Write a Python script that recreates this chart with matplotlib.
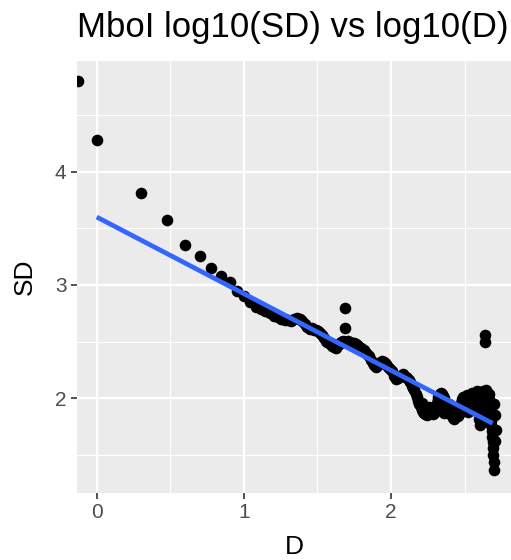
import numpy as np
import matplotlib.pyplot as plt
from matplotlib.ticker import MultipleLocator

plt.rcParams['font.family'] = ['Liberation Sans', 'DejaVu Sans']

# log10(D), log10(SD)
log_d = [-0.125, 0.0, 0.301, 0.477, 0.602, 0.699, 0.778, 0.845, 0.903, 0.954,
         1.0, 1.041, 1.079, 1.114, 1.146, 1.176, 1.204, 1.23, 1.255, 1.279,
         1.301, 1.322, 1.342, 1.362, 1.38, 1.398, 1.415, 1.431, 1.447, 1.462,
         1.477, 1.491, 1.505, 1.519, 1.531, 1.544, 1.556, 1.568, 1.58, 1.591,
         1.602, 1.613, 1.623, 1.633, 1.643, 1.653, 1.663, 1.672, 1.681, 1.699,
         1.708, 1.716, 1.724, 1.732, 1.74, 1.748, 1.756, 1.763, 1.771, 1.778,
         1.785, 1.799, 1.813, 1.826, 1.839, 1.851, 1.863, 1.875, 1.886, 1.898,
         1.908, 1.919, 1.929, 1.94, 1.954, 1.968, 1.982, 1.996, 2.009, 2.021,
         2.033, 2.045, 2.057, 2.068, 2.079, 2.09, 2.1, 2.111, 2.121, 2.13,
         2.14, 2.149, 2.158, 2.167, 2.176, 2.185, 2.193, 2.201, 2.21, 2.218,
         2.225, 2.233, 2.241, 2.248, 2.255, 2.262, 2.27, 2.276, 2.283, 2.29,
         2.297, 2.303, 2.31, 2.316, 2.322, 2.328, 2.334, 2.34, 2.346, 2.352,
         2.358, 2.364, 2.37, 2.375, 2.38, 2.386, 2.391, 2.396, 2.401, 2.407,
         2.412, 2.417, 2.422, 2.427, 2.431, 2.436, 2.441, 2.446, 2.45, 2.455,
         2.46, 2.464, 2.468, 2.473, 2.477, 2.481, 2.486, 2.49, 2.494, 2.498,
         2.502, 2.507, 2.511, 2.515, 2.519, 2.522, 2.526, 2.53, 2.534, 2.538,
         2.542, 2.545, 2.549, 2.553, 2.556, 2.56, 2.563, 2.567, 2.57, 2.574,
         2.577, 2.58, 2.584, 2.587, 2.591, 2.594, 2.597, 2.6, 2.603, 2.606,
         2.61, 2.613, 2.616, 2.619, 2.622, 2.625, 2.628, 2.631, 2.634, 2.637,
         2.64, 2.643, 2.646, 2.649, 2.652, 2.655, 2.658, 2.661, 2.664, 2.667,
         2.67, 2.673, 2.676, 2.679, 2.682, 2.684, 2.687, 2.69, 2.692, 2.695,
         2.698, 2.7, 2.705, 2.71, 2.705, 2.7,
         2.33, 2.36, 2.40, 2.48, 2.52, 2.56, 2.345, 2.21, 2.26]
log_sd = [4.80, 4.28, 3.81, 3.57, 3.35, 3.26, 3.15, 3.08, 3.03, 2.95,
          2.90, 2.85, 2.81, 2.79, 2.77, 2.75, 2.73, 2.72, 2.70, 2.69,
          2.69, 2.68, 2.70, 2.71, 2.70, 2.68, 2.66, 2.63, 2.61, 2.62,
          2.60, 2.60, 2.59, 2.58, 2.56, 2.53, 2.51, 2.50, 2.49, 2.48,
          2.46, 2.45, 2.44, 2.46, 2.48, 2.49, 2.50, 2.51, 2.50, 2.50,
          2.51, 2.50, 2.49, 2.48, 2.49, 2.49, 2.48, 2.48, 2.47, 2.46,
          2.45, 2.44, 2.43, 2.41, 2.39, 2.37, 2.34, 2.31, 2.29, 2.28,
          2.29, 2.31, 2.32, 2.33, 2.32, 2.30, 2.28, 2.26, 2.24, 2.20,
          2.17, 2.18, 2.19, 2.20, 2.21, 2.20, 2.19, 2.18, 2.16, 2.14,
          2.11, 2.09, 2.07, 2.04, 2.01, 1.98, 1.95, 1.92, 1.90, 1.88,
          1.87, 1.86, 1.85, 1.86, 1.88, 1.90, 1.89, 1.87, 1.86, 1.87,
          1.90, 1.93, 1.96, 1.99, 2.01, 2.03, 2.04, 2.05, 2.04, 2.02,
          2.00, 1.97, 1.94, 1.91, 1.89, 1.90, 1.93, 1.95, 1.94, 1.91,
          1.88, 1.85, 1.83, 1.82, 1.84, 1.86, 1.88, 1.87, 1.85, 1.84,
          1.86, 1.88, 1.90, 1.93, 1.96, 1.99, 2.01, 2.00, 1.97, 1.94,
          1.92, 1.95, 1.98, 2.01, 2.03, 2.02, 1.99, 1.96, 1.94, 1.97,
          2.00, 2.03, 2.05, 2.04, 2.01, 1.98, 1.95, 1.93, 1.96, 1.99,
          2.02, 2.05, 2.06, 2.03, 1.99, 1.95, 1.90, 1.82, 1.76, 1.80,
          1.86, 1.92, 1.97, 2.01, 2.04, 2.06, 2.05, 2.02, 1.98, 2.03,
          2.06, 2.07, 2.04, 2.00, 1.95, 1.90, 1.96, 2.02, 2.04, 1.99,
          1.93, 1.88, 1.84, 1.80, 1.76, 1.71, 1.66, 1.61, 1.56, 1.50,
          1.44, 1.37, 1.62, 1.72, 1.85, 1.95,
          1.90, 1.87, 1.86, 1.92, 1.88, 1.90, 1.95, 1.96, 1.92]

# stray points above the band
out_d = [1.69, 1.69, 2.64, 2.64]
out_sd = [2.80, 2.62, 2.56, 2.50]

# linear fit drawn in the reference
fit_intercept = 3.60
fit_slope = -0.677
fit_range = [0.0, 2.69]

fig = plt.figure(figsize=(5.11, 5.60), dpi=100)
ax = fig.add_axes([77 / 511, 67 / 560, 1 - 77 / 511, 432 / 560])
ax.set_facecolor('#EBEBEB')
for s in ax.spines.values():
    s.set_visible(False)

ax.scatter(log_d + out_d, log_sd + out_sd, s=70, color='black', linewidths=0, zorder=3)
fx = np.array(fit_range)
ax.plot(fx, fit_intercept + fit_slope * fx, color='#3366FF', lw=3.4, zorder=4,
        solid_capstyle='butt')

ax.set_xlim(-0.134, 2.815)
ax.set_ylim(1.164, 4.977)
ax.xaxis.set_major_locator(MultipleLocator(1))
ax.xaxis.set_minor_locator(MultipleLocator(0.5))
ax.yaxis.set_major_locator(MultipleLocator(1))
ax.yaxis.set_minor_locator(MultipleLocator(0.5))
ax.grid(which='major', color='white', lw=1.6, zorder=0)
ax.grid(which='minor', color='white', lw=0.8, zorder=0)
ax.set_axisbelow(True)
ax.tick_params(which='major', length=4.5, width=1.2, color='#333333',
               labelcolor='#4D4D4D', labelsize=15, pad=3)
ax.tick_params(which='minor', length=0)

ax.set_xlabel('D', fontsize=19, labelpad=9)
ax.set_ylabel('SD', fontsize=19, labelpad=13)
fig.text(77 / 511, 1 - 37 / 560, 'MboI log10(SD) vs log10(D)', fontsize=25,
         ha='left', va='baseline')

fig.savefig('out.png', dpi=100)
